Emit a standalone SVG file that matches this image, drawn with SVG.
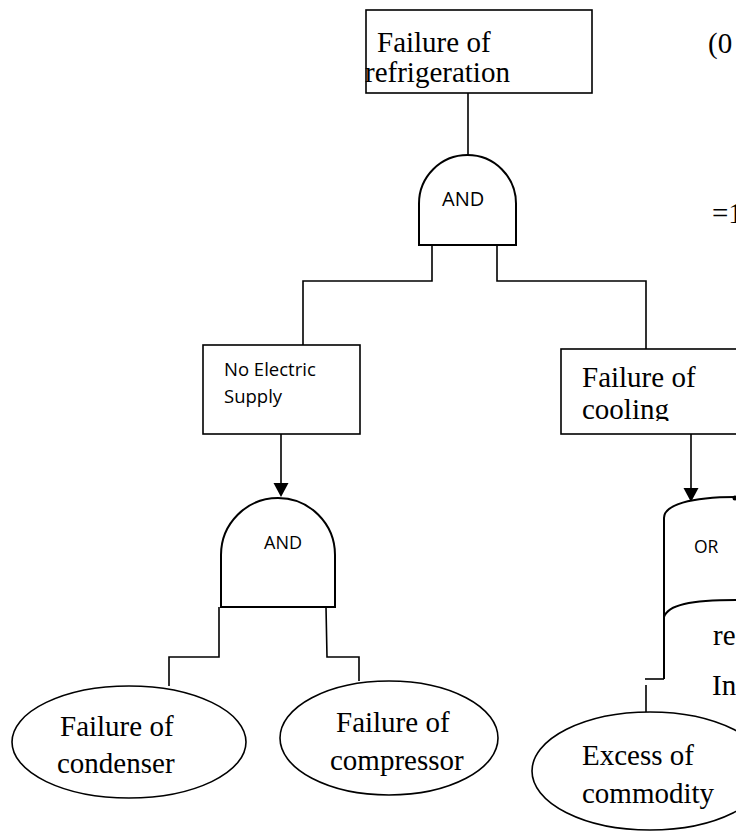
<svg xmlns="http://www.w3.org/2000/svg" width="736" height="832" viewBox="0 0 736 832">
<style>
.box{fill:#fff;stroke:#000;stroke-width:1.6}
.gate{fill:#fff;stroke:#000;stroke-width:2}
.ln{fill:none;stroke:#000;stroke-width:1.6}
.ser{font-family:"Liberation Serif","Times New Roman",serif;font-size:29px;fill:#000}
.san{font-family:"Open Sans","Liberation Sans",sans-serif;fill:#000}
</style>
<defs>
<marker id="arr" markerWidth="16" markerHeight="14" refX="7.5" refY="0" orient="0" markerUnits="userSpaceOnUse" viewBox="0 0 15 14">
<path d="M0,0 L15,0 L7.5,14 Z" fill="#000"/>
</marker>
<clipPath id="c1"><rect x="360" y="0" width="240" height="88"/></clipPath>
<clipPath id="c2"><rect x="555" y="340" width="181" height="81"/></clipPath>
</defs>
<rect width="736" height="832" fill="#fff"/>
<g id="connectors">
<path class="ln" d="M468,93 V155"/>
<path class="ln" d="M432,243 V281 H303 V345"/>
<path class="ln" d="M497,240 V281 H646 V349"/>
<path class="ln" d="M281,434 V483" marker-end="url(#arr)"/>
<path class="ln" d="M691,434 V488" marker-end="url(#arr)"/>
<path class="ln" d="M219,607 V657 H169 V686"/>
<path class="ln" d="M326,607 L327,657 H359 V681"/>
<path class="ln" d="M664,679 H645"/>
<path class="ln" d="M646,685 V712"/>
</g>
<g id="top-event">
<rect class="box" x="366" y="10" width="226" height="83"/>
<g clip-path="url(#c1)">
<text class="ser" x="377" y="52">Failure of</text>
<text class="ser" x="365" y="82">refrigeration</text>
</g>
</g>
<g id="and-gate-1">
<path class="gate" d="M419,245 V203.5 A48.5,48.5 0 0 1 516,203.5 V245 Z"/>
<text class="san" x="442" y="206" font-size="20">AND</text>
</g>
<g id="no-electric-supply">
<rect class="box" x="203" y="345" width="157" height="89"/>
<text class="san" x="224" y="376" font-size="18.5">No Electric</text>
<text class="san" x="224" y="403" font-size="18.5">Supply</text>
</g>
<g id="failure-of-cooling">
<rect class="box" x="561" y="349" width="200" height="85"/>
<g clip-path="url(#c2)">
<text class="ser" x="582" y="387">Failure of</text>
<text class="ser" x="582" y="419">cooling</text>
</g>
</g>
<g id="and-gate-2">
<path class="gate" d="M221,607 V555 A57,57 0 0 1 335,555 V607 Z"/>
<text class="san" x="264" y="549" font-size="18">AND</text>
</g>
<g id="or-gate">
<path class="gate" d="M664,679 V518 C664,505 690,497 736,497"/>
<path class="gate" d="M664,617 C668,605 690,600 736,600"/>
<circle cx="735" cy="498" r="2.5" fill="#000"/>
<text class="san" x="694" y="553" font-size="17.5">OR</text>
</g>
<g id="failure-of-condenser">
<ellipse class="box" cx="129" cy="742" rx="117" ry="56"/>
<text class="ser" x="60" y="736">Failure of</text>
<text class="ser" x="57" y="773">condenser</text>
</g>
<g id="failure-of-compressor">
<ellipse class="box" cx="389" cy="738" rx="109" ry="57"/>
<text class="ser" x="336" y="732">Failure of</text>
<text class="ser" x="330" y="770">compressor</text>
</g>
<g id="excess-of-commodity">
<ellipse class="box" cx="650" cy="771" rx="118" ry="59"/>
<text class="ser" x="582" y="765">Excess of</text>
<text class="ser" x="582" y="803">commodity</text>
</g>
<g id="side-texts">
<text class="ser" x="708" y="53" font-size="27">(0</text>
<text class="ser" x="712" y="223" font-size="27">=1</text>
<text class="ser" x="713" y="645" font-size="27">re</text>
<text class="ser" x="712" y="695" font-size="27">In</text>
</g>
</svg>
